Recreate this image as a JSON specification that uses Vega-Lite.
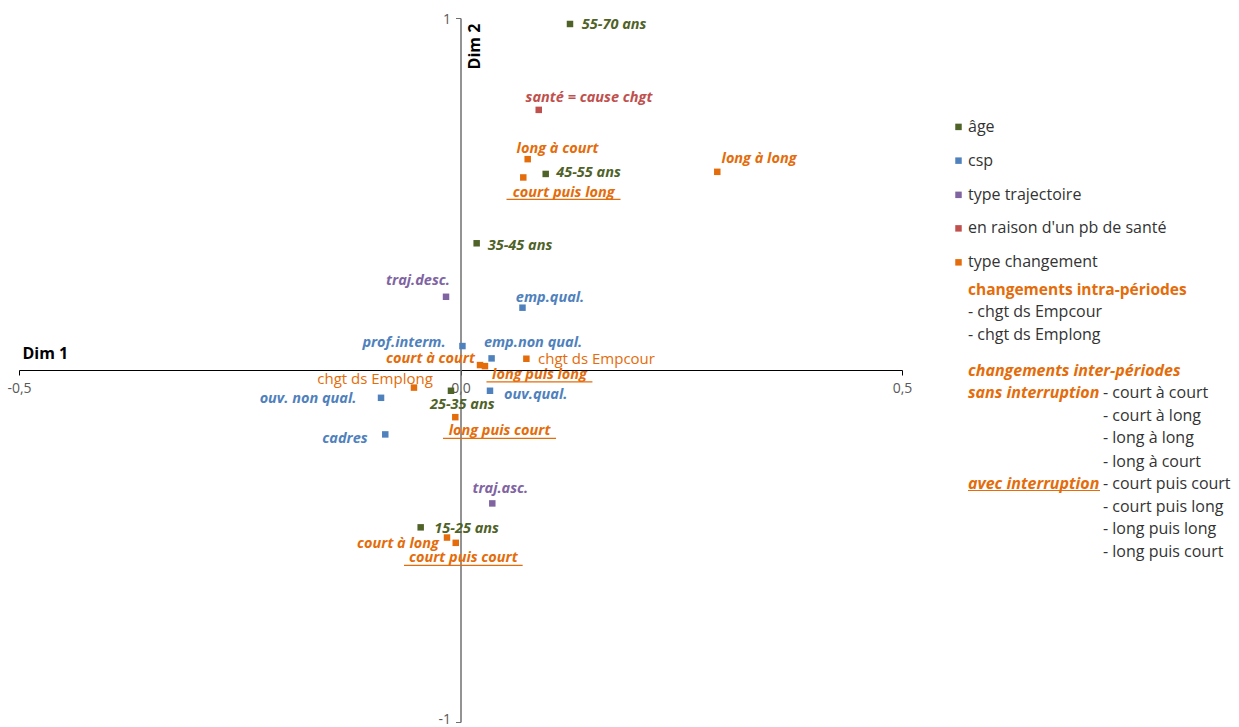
{
  "$schema": "https://vega.github.io/schema/vega-lite/v6.json",
  "background": "white",
  "padding": {"left": 6, "top": 12, "right": 0, "bottom": 0},
  "bounds": "flush",
  "spacing": 38,
  "config": {"view": {"stroke": null}, "font": "Open Sans"},
  "hconcat": [
    {
      "width": 883,
      "height": 704,
      "data": {
        "values": [
          {"label": "55-70 ans", "cat": "âge", "groupe": "", "x": 0.124, "y": 0.983, "lx": 0.174, "ly": 0.98},
          {"label": "45-55 ans", "cat": "âge", "groupe": "", "x": 0.0965, "y": 0.557, "lx": 0.145, "ly": 0.561},
          {"label": "35-45 ans", "cat": "âge", "groupe": "", "x": 0.0183, "y": 0.36, "lx": 0.0674, "ly": 0.353},
          {"label": "25-35 ans", "cat": "âge", "groupe": "", "x": -0.0108, "y": -0.059, "lx": 0.002, "ly": -0.099},
          {"label": "15-25 ans", "cat": "âge", "groupe": "", "x": -0.0451, "y": -0.447, "lx": 0.007, "ly": -0.453},
          {"label": "emp.qual.", "cat": "csp", "groupe": "", "x": 0.0702, "y": 0.177, "lx": 0.1014, "ly": 0.205},
          {"label": "prof.interm.", "cat": "csp", "groupe": "", "x": 0.0022, "y": 0.068, "lx": -0.064, "ly": 0.076},
          {"label": "emp.non qual.", "cat": "csp", "groupe": "", "x": 0.0352, "y": 0.033, "lx": 0.0821, "ly": 0.077},
          {"label": "ouv.qual.", "cat": "csp", "groupe": "", "x": 0.0334, "y": -0.059, "lx": 0.0852, "ly": -0.072},
          {"label": "ouv. non qual.", "cat": "csp", "groupe": "", "x": -0.09, "y": -0.079, "lx": -0.1727, "ly": -0.082},
          {"label": "cadres", "cat": "csp", "groupe": "", "x": -0.0852, "y": -0.183, "lx": -0.1308, "ly": -0.197},
          {"label": "traj.desc.", "cat": "type trajectoire", "groupe": "", "x": -0.0164, "y": 0.208, "lx": -0.0481, "ly": 0.253},
          {"label": "traj.asc.", "cat": "type trajectoire", "groupe": "", "x": 0.036, "y": -0.379, "lx": 0.0451, "ly": -0.338},
          {"label": "santé = cause chgt", "cat": "en raison d'un pb de santé", "groupe": "", "x": 0.0886, "y": 0.739, "lx": 0.1455, "ly": 0.772},
          {"label": "long à court", "cat": "type changement", "groupe": "sans interruption", "x": 0.0761, "y": 0.599, "lx": 0.1099, "ly": 0.627},
          {"label": "court puis long", "cat": "type changement", "groupe": "avec interruption", "x": 0.0711, "y": 0.547, "lx": 0.1169, "ly": 0.504, "ux1": 0.0521, "ux2": 0.1812, "uy": 0.485},
          {"label": "long à long", "cat": "type changement", "groupe": "sans interruption", "x": 0.2908, "y": 0.563, "lx": 0.3381, "ly": 0.599},
          {"label": "court à court", "cat": "type changement", "groupe": "sans interruption", "x": 0.0221, "y": 0.014, "lx": -0.034, "ly": 0.03},
          {"label": "long puis long", "cat": "type changement", "groupe": "avec interruption", "x": 0.0277, "y": 0.011, "lx": 0.0895, "ly": -0.014, "ux1": 0.0294, "ux2": 0.1494, "uy": -0.034},
          {"label": "chgt ds Empcour", "cat": "type changement", "groupe": "intra-période", "x": 0.0746, "y": 0.032, "lx": 0.154, "ly": 0.031},
          {"label": "chgt ds Emplong", "cat": "type changement", "groupe": "intra-période", "x": -0.0527, "y": -0.05, "lx": -0.0968, "ly": -0.026},
          {"label": "long puis court", "cat": "type changement", "groupe": "avec interruption", "x": -0.0059, "y": -0.134, "lx": 0.0442, "ly": -0.173, "ux1": -0.0198, "ux2": 0.1082, "uy": -0.194},
          {"label": "court à long", "cat": "type changement", "groupe": "sans interruption", "x": -0.0153, "y": -0.476, "lx": -0.0708, "ly": -0.494},
          {"label": "court puis court", "cat": "type changement", "groupe": "avec interruption", "x": -0.0054, "y": -0.491, "lx": 0.0032, "ly": -0.535, "ux1": -0.064, "ux2": 0.0704, "uy": -0.555}
        ]
      },
      "layer": [
        {
          "mark": {"type": "point", "shape": "square", "filled": true, "size": 42, "opacity": 1},
          "encoding": {
            "x": {
              "field": "x", "type": "quantitative",
              "scale": {"domain": [-0.5, 0.5], "nice": false, "zero": false},
              "axis": {
                "title": "Dim 1", "values": [-0.5, 0, 0.5], "offset": -352, "grid": false,
                "domainColor": "#000000", "domainWidth": 1, "tickColor": "#000000", "tickSize": 5,
                "labelExpr": "replace(replace(format(datum.value, '.1f'), '.', ','), '\u2212', '-')",
                "labelColor": "#595959", "labelFontSize": 14, "labelPadding": 6, "labelFlush": false, "labelOverlap": false,
                "titleFontSize": 16, "titleFontWeight": "bold", "titleColor": "#000000",
                "titleX": 3, "titleY": -12, "titleAlign": "left", "titleBaseline": "alphabetic"
              }
            },
            "y": {
              "field": "y", "type": "quantitative",
              "scale": {"domain": [-1, 1], "nice": false, "zero": false},
              "axis": {
                "title": "Dim 2", "values": [-1, 1], "offset": -441.5, "grid": false,
                "domainColor": "#6f6f6f", "domainWidth": 1.5, "tickColor": "#6f6f6f", "tickSize": 5,
                "labelExpr": "replace(format(datum.value, 'd'), '\u2212', '-')",
                "labelColor": "#595959", "labelFontSize": 14, "labelPadding": 5, "labelFlush": false, "labelOverlap": false,
                "labelOffset": {"condition": {"test": "datum.value < 0", "value": -3}, "value": 1},
                "titleFontSize": 16, "titleFontWeight": "bold", "titleColor": "#000000", "titleAngle": 270,
                "titleX": 19, "titleY": 28, "titleAlign": "center", "titleBaseline": "alphabetic"
              }
            },
            "color": {
              "field": "cat", "type": "nominal",
              "scale": {"domain": ["âge", "csp", "type trajectoire", "en raison d'un pb de santé", "type changement"], "range": ["#4F6228", "#4F81BD", "#8064A2", "#C0504D", "#E46C0A"]},
              "legend": null
            }
          }
        },
        {
          "transform": [{"filter": "datum.groupe !== 'intra-période'"}],
          "mark": {"type": "text", "fontWeight": "bold", "fontStyle": "italic", "fontSize": 14.5, "align": "center", "baseline": "middle"},
          "encoding": {
            "x": {"field": "lx", "type": "quantitative"},
            "y": {"field": "ly", "type": "quantitative"},
            "text": {"field": "label"},
            "color": {"field": "cat", "type": "nominal", "legend": null}
          }
        },
        {
          "transform": [{"filter": "datum.groupe === 'intra-période'"}],
          "mark": {"type": "text", "fontWeight": "normal", "fontSize": 15, "align": "center", "baseline": "middle"},
          "encoding": {
            "x": {"field": "lx", "type": "quantitative"},
            "y": {"field": "ly", "type": "quantitative"},
            "text": {"field": "label"},
            "color": {"field": "cat", "type": "nominal", "legend": null}
          }
        },
        {
          "transform": [{"filter": "datum.groupe === 'avec interruption'"}],
          "mark": {"type": "rule", "strokeWidth": 1.2},
          "encoding": {
            "x": {"field": "ux1", "type": "quantitative"},
            "x2": {"field": "ux2"},
            "y": {"field": "uy", "type": "quantitative"},
            "color": {"field": "cat", "type": "nominal", "legend": null}
          }
        }
      ]
    },
    {
      "width": 299,
      "height": 704,
      "data": {
        "values": [
          {"t": "âge", "kind": "entrée", "col": 2.8, "row": 4.84},
          {"t": "csp", "kind": "entrée", "col": 2.8, "row": 6.34},
          {"t": "type trajectoire", "kind": "entrée", "col": 2.8, "row": 7.86},
          {"t": "en raison d'un pb de santé", "kind": "entrée", "col": 2.8, "row": 9.35},
          {"t": "type changement", "kind": "entrée", "col": 2.8, "row": 10.86},
          {"t": "changements intra-périodes", "kind": "titre", "col": 2.8, "row": 12.09},
          {"t": "- chgt ds Empcour", "kind": "item", "col": 2.8, "row": 13.08},
          {"t": "- chgt ds Emplong", "kind": "item", "col": 2.8, "row": 14.09},
          {"t": "changements  inter-périodes", "kind": "sous-titre", "col": 2.8, "row": 15.67},
          {"t": "sans interruption", "kind": "sous-titre", "col": 2.8, "row": 16.65},
          {"t": "- court à court", "kind": "item", "col": 16.3, "row": 16.65},
          {"t": "- court à long", "kind": "item", "col": 16.3, "row": 17.69},
          {"t": "- long à long", "kind": "item", "col": 16.3, "row": 18.68},
          {"t": "- long à court", "kind": "item", "col": 16.3, "row": 19.72},
          {"t": "avec interruption", "kind": "sous-titre", "col": 2.8, "row": 20.71, "fin": 16.0, "souligne": 21.0},
          {"t": "- court puis court", "kind": "item", "col": 16.3, "row": 20.71},
          {"t": "- court puis long", "kind": "item", "col": 16.3, "row": 21.72},
          {"t": "- long puis long", "kind": "item", "col": 16.3, "row": 22.73},
          {"t": "- long puis court", "kind": "item", "col": 16.3, "row": 23.75}
        ]
      },
      "encoding": {
        "x": {"field": "col", "type": "quantitative", "scale": {"domain": [0, 29.9], "nice": false, "zero": false}, "axis": null},
        "y": {"field": "row", "type": "quantitative", "scale": {"domain": [0, 31.29], "nice": false, "zero": false, "reverse": true}, "axis": null}
      },
      "layer": [
        {
          "transform": [{"filter": "datum.kind === 'entrée'"}],
          "mark": {"type": "point", "shape": "square", "filled": true, "size": 42, "opacity": 1, "xOffset": -9.5},
          "encoding": {
            "color": {
              "field": "t", "type": "nominal",
              "scale": {"domain": ["âge", "csp", "type trajectoire", "en raison d'un pb de santé", "type changement"], "range": ["#4F6228", "#4F81BD", "#8064A2", "#C0504D", "#E46C0A"]},
              "legend": null
            }
          }
        },
        {
          "transform": [{"filter": "datum.kind === 'entrée' || datum.kind === 'item'"}],
          "mark": {"type": "text", "align": "left", "baseline": "middle", "fontSize": 16, "color": "#333333"},
          "encoding": {"text": {"field": "t"}}
        },
        {
          "transform": [{"filter": "datum.kind === 'titre'"}],
          "mark": {"type": "text", "align": "left", "baseline": "middle", "fontSize": 15.5, "fontWeight": "bold", "color": "#E46C0A"},
          "encoding": {"text": {"field": "t"}}
        },
        {
          "transform": [{"filter": "datum.kind === 'sous-titre'"}],
          "mark": {"type": "text", "align": "left", "baseline": "middle", "fontSize": 16, "fontWeight": "bold", "fontStyle": "italic", "color": "#E46C0A"},
          "encoding": {"text": {"field": "t"}}
        },
        {
          "transform": [{"filter": "isValid(datum.fin)"}],
          "mark": {"type": "rule", "color": "#E46C0A", "strokeWidth": 1.2},
          "encoding": {
            "x2": {"field": "fin"},
            "y": {"field": "souligne", "type": "quantitative"}
          }
        }
      ]
    }
  ]
}
